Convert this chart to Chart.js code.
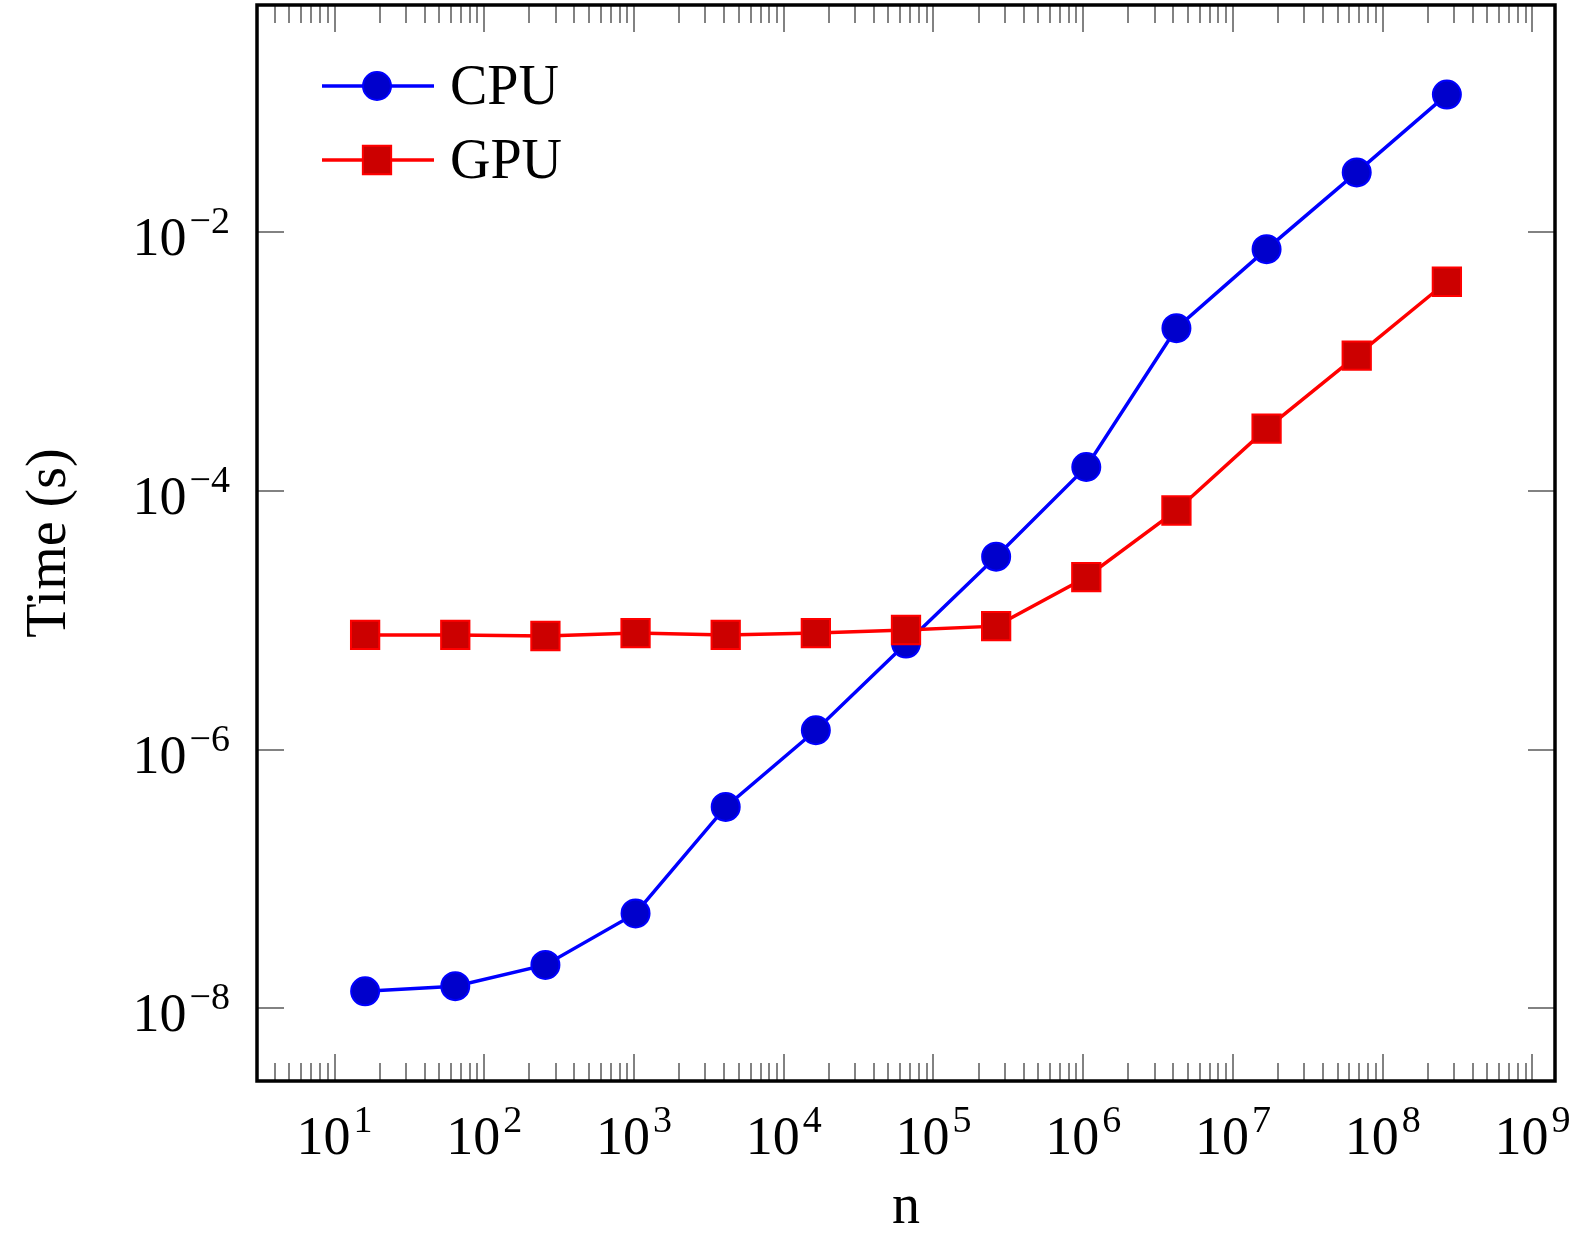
<!DOCTYPE html>
<html>
<head>
<meta charset="utf-8">
<script src="https://cdn.jsdelivr.net/npm/chart.js@4.4.1/dist/chart.umd.min.js"></script>
<style>
  html, body { margin: 0; padding: 0; background: #fff; }
  #wrap { width: 1588px; height: 1239px; }
</style>
</head>
<body>
<div id="wrap"><canvas id="chart"></canvas></div>
<script>
// problem sizes n (powers of 4) and measured times in seconds
const sizes = [16, 64, 256, 1024, 4096, 16384, 65536, 262144, 1048576, 4194304, 16777216, 67108864, 268435456];
const cpuTimes = [1.35e-8, 1.48e-8, 2.16e-8, 5.4e-8, 3.6e-7, 1.41e-6, 6.6e-6, 3.1e-5, 1.53e-4, 1.81e-3, 7.4e-3, 2.9e-2, 0.116];
const gpuTimes = [7.7e-6, 7.7e-6, 7.55e-6, 7.95e-6, 7.7e-6, 7.95e-6, 8.4e-6, 9.0e-6, 2.15e-5, 7.05e-5, 3.03e-4, 1.11e-3, 4.14e-3];
const seriesLabels = ['CPU', 'GPU'];
const xTickExps = [1, 2, 3, 4, 5, 6, 7, 8, 9];
const yTickExps = [-2, -4, -6, -8];
const xTitle = 'n';
const yTitle = 'Time (s)';

const SERIF = '"Liberation Serif", "DejaVu Serif", serif';
const MINUS = '\u2212';

// pgfplots-like axis: inward ticks on all sides, frame, 10^k labels, legend
const pgfAxes = {
    id: 'pgfAxes',
    beforeDatasetsDraw(chart) {
        const { ctx, chartArea: a, scales: { x, y } } = chart;
        ctx.save();
        ctx.strokeStyle = 'rgb(130,130,130)';
        ctx.lineWidth = 2;
        const seg = (x1, y1, x2, y2) => {
            ctx.beginPath();
            ctx.moveTo(x1, y1);
            ctx.lineTo(x2, y2);
            ctx.stroke();
        };
        const lo = Math.floor(Math.log10(x.min));
        const hi = Math.ceil(Math.log10(x.max));
        for (let d = lo; d <= hi; d++) {
            for (let k = 1; k < 10; k++) {
                const v = k * Math.pow(10, d);
                if (v < x.min || v > x.max) continue;
                const px = Math.round(x.getPixelForValue(v));
                const len = k === 1 ? 27 : 18;
                seg(px, a.top, px, a.top + len);
                seg(px, a.bottom, px, a.bottom - len);
            }
        }
        yTickExps.forEach(e => {
            const py = Math.round(y.getPixelForValue(Math.pow(10, e)));
            seg(a.left, py, a.left + 27, py);
            seg(a.right, py, a.right - 27, py);
        });
        ctx.restore();
    },
    afterDraw(chart) {
        const { ctx, chartArea: a, scales: { x, y } } = chart;
        ctx.save();

        // frame
        ctx.strokeStyle = '#000';
        ctx.lineWidth = 3.5;
        ctx.strokeRect(a.left, a.top, a.right - a.left, a.bottom - a.top);

        // tick labels 10^k
        ctx.fillStyle = '#000';
        ctx.textBaseline = 'alphabetic';
        ctx.textAlign = 'left';
        const baseFont = '54px ' + SERIF;
        const expFont = '38px ' + SERIF;
        const gap = 3;
        const power = (e) => {
            ctx.font = baseFont;
            const wb = ctx.measureText('10').width;
            ctx.font = expFont;
            const et = (e < 0 ? MINUS : '') + Math.abs(e);
            const we = ctx.measureText(et).width;
            return { wb, we, et, w: wb + gap + we };
        };
        const drawPower = (p, left, baseline) => {
            ctx.font = baseFont;
            ctx.fillText('10', left, baseline);
            ctx.font = expFont;
            ctx.fillText(p.et, left + p.wb + gap, baseline - 22);
        };
        xTickExps.forEach(e => {
            const p = power(e);
            const px = x.getPixelForValue(Math.pow(10, e));
            drawPower(p, px - p.w / 2, a.bottom + 73);
        });
        yTickExps.forEach(e => {
            const p = power(e);
            const py = y.getPixelForValue(Math.pow(10, e));
            drawPower(p, 230 - p.w, py + 23);
        });

        // axis titles
        ctx.font = '56px ' + SERIF;
        ctx.textAlign = 'center';
        ctx.fillText(xTitle, (a.left + a.right) / 2, 1223);
        ctx.save();
        ctx.translate(65, (a.top + a.bottom) / 2);
        ctx.rotate(-Math.PI / 2);
        ctx.fillText(yTitle, 0, 0);
        ctx.restore();

        // legend (north west)
        const rows = [86, 160];
        chart.data.datasets.forEach((ds, i) => {
            const cy = rows[i];
            ctx.strokeStyle = ds.borderColor;
            ctx.lineWidth = ds.borderWidth;
            ctx.beginPath();
            ctx.moveTo(322, cy);
            ctx.lineTo(434, cy);
            ctx.stroke();
            ctx.fillStyle = ds.pointBackgroundColor;
            ctx.strokeStyle = ds.pointBorderColor;
            ctx.lineWidth = ds.pointBorderWidth;
            ctx.beginPath();
            if (ds.pointStyle === 'rect') {
                const h = ds.pointRadius * Math.SQRT1_2;
                ctx.rect(377 - h, cy - h, 2 * h, 2 * h);
            } else {
                ctx.arc(377, cy, ds.pointRadius, 0, Math.PI * 2);
            }
            ctx.fill();
            ctx.stroke();
            ctx.fillStyle = '#000';
            ctx.font = '56px ' + SERIF;
            ctx.textAlign = 'left';
            ctx.fillText(ds.label, 450, cy + 18);
        });
        ctx.restore();
    }
};

const toPoints = (ys) => sizes.map((n, i) => ({ x: n, y: ys[i] }));

new Chart(document.getElementById('chart'), {
    type: 'scatter',
    data: {
        datasets: [{
            label: seriesLabels[0],
            data: toPoints(cpuTimes),
            showLine: true,
            borderColor: 'rgb(0,0,255)',
            borderWidth: 3.5,
            pointStyle: 'circle',
            pointRadius: 14,
            pointBackgroundColor: 'rgb(0,0,204)',
            pointBorderColor: 'rgb(0,0,255)',
            pointBorderWidth: 2,
            order: 1,
        }, {
            label: seriesLabels[1],
            data: toPoints(gpuTimes),
            showLine: true,
            borderColor: 'rgb(255,0,0)',
            borderWidth: 3.5,
            pointStyle: 'rect',
            pointRadius: 20,
            pointBackgroundColor: 'rgb(204,0,0)',
            pointBorderColor: 'rgb(255,0,0)',
            pointBorderWidth: 2,
            order: 0,
        }],
    },
    options: {
        responsive: true,
        maintainAspectRatio: false,
        animation: false,
        layout: {
            autoPadding: false,
            padding: { top: 5, right: 33, left: 0, bottom: 0 },
        },
        scales: {
            x: {
                type: 'logarithmic',
                min: Math.pow(10, 0.482),
                max: Math.pow(10, 9.151),
                grid: { display: false },
                border: { display: false },
                ticks: { display: false },
                afterFit: (s) => { s.height = 158; },
            },
            y: {
                type: 'logarithmic',
                min: Math.pow(10, -8.563),
                max: Math.pow(10, -0.243),
                grid: { display: false },
                border: { display: false },
                ticks: { display: false },
                afterFit: (s) => { s.width = 257; },
            },
        },
        plugins: {
            legend: { display: false },
            tooltip: { enabled: false },
        },
    },
    plugins: [pgfAxes],
});
</script>
</body>
</html>
